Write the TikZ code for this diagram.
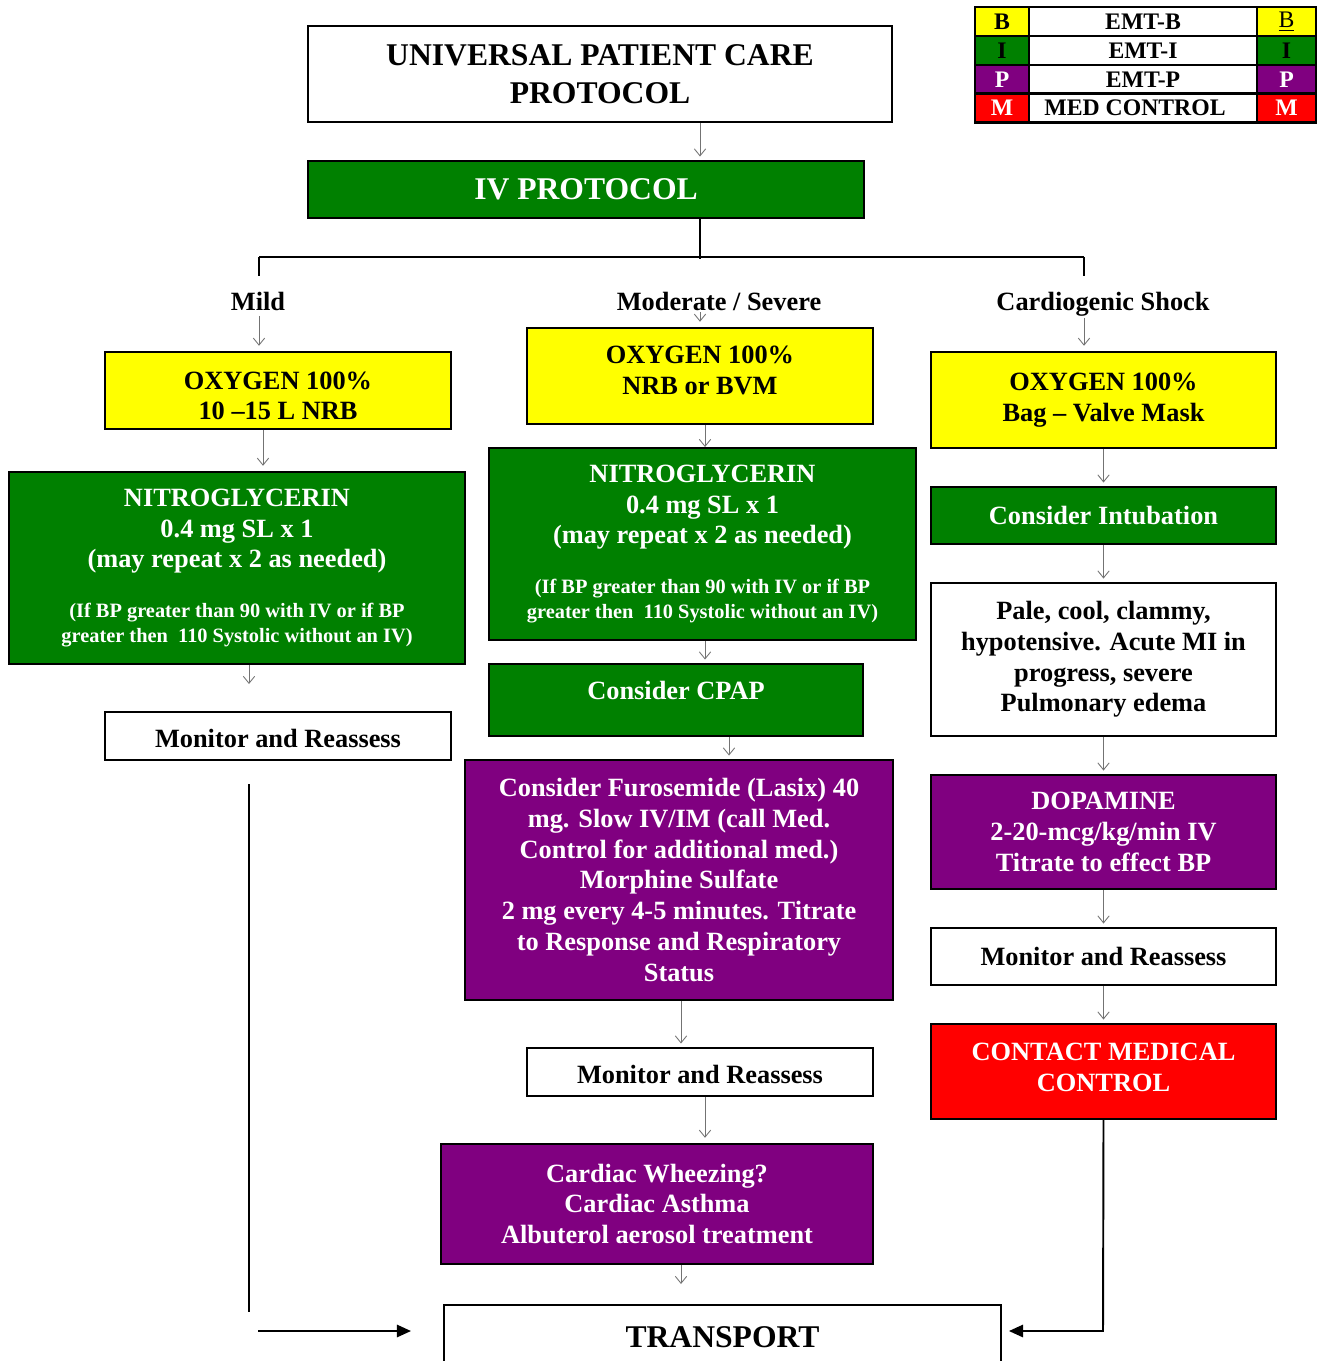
\documentclass[tikz,border=0pt]{standalone}
\usepackage{fontspec}
\setmainfont{Liberation Serif}
\usepackage{tikz}
\usetikzlibrary{arrows.meta,positioning}
\definecolor{BoxGreen}{HTML}{008000}
\definecolor{BoxPurple}{HTML}{800080}
\definecolor{BoxYellow}{HTML}{FFFF00}
\definecolor{BoxRed}{HTML}{FF0000}
\newcommand{\bpfont}{\fontsize{11.6}{13}\selectfont}
\tikzset{
    box/.style={draw=black, line width=1.1pt, inner sep=2pt, align=center,
        font=\fontsize{15}{17.5}\selectfont\bfseries},
    yellowbox/.style={box, fill=BoxYellow, text=black},
    greenbox/.style={box, fill=BoxGreen, text=white},
    purplebox/.style={box, fill=BoxPurple, text=white},
    redbox/.style={box, fill=BoxRed, text=white},
    whitebox/.style={box, fill=white, text=black},
    branchlabel/.style={font=\fontsize{15}{17.5}\selectfont\bfseries, inner sep=1pt},
    cell/.style={draw=black, line width=1.2pt, minimum height=0.58cm, inner sep=0pt,
        font=\fontsize{13.5}{15}\selectfont\bfseries},
    flow/.style={-{Straight Barb[length=4pt,width=6.5pt]}, draw=black!55, line width=0.5pt},
    link/.style={draw=black, line width=1.1pt},
    feed/.style={link, -{Triangle[length=8pt,width=7pt]}}
}
\begin{document}
\begin{tikzpicture}[x=0.02cm,y=-0.02cm]
    \useasboundingbox (0,0) rectangle (1318,1361);
    \clip (0,0) rectangle (1318,1361);

    % legend
    \node[cell, fill=BoxYellow, minimum width=1.08cm] (lgbl) at (1002,21.5) {B};
    \node[cell, fill=white, minimum width=4.56cm] (lgbm) at (1143,21.5) {EMT-B};
    \node[cell, fill=BoxYellow, minimum width=1.18cm] (lgbr) at (1286.5,21.5) {\mdseries\underline{B}};
    \node[cell, fill=BoxGreen, minimum width=1.08cm] (lgil) at (1002,50.5) {I};
    \node[cell, fill=white, minimum width=4.56cm] (lgim) at (1143,50.5) {EMT-I};
    \node[cell, fill=BoxGreen, minimum width=1.18cm] (lgir) at (1286.5,50.5) {I};
    \node[cell, fill=BoxPurple, text=white, minimum width=1.08cm] (lgpl) at (1002,79.5) {P};
    \node[cell, fill=white, minimum width=4.56cm] (lgpm) at (1143,79.5) {EMT-P};
    \node[cell, fill=BoxPurple, text=white, minimum width=1.18cm] (lgpr) at (1286.5,79.5) {P};
    \node[cell, fill=BoxRed, text=white, minimum width=1.08cm] (lgml) at (1002,108) {M};
    \node[cell, fill=white, minimum width=4.56cm] (lgmm) at (1143,108) {MED CONTROL\kern0.32cm};
    \node[cell, fill=BoxRed, text=white, minimum width=1.18cm] (lgmr) at (1286.5,108) {M};

    \node[whitebox, minimum width=11.68cm, minimum height=1.92cm,
        font=\fontsize{18}{21.5}\selectfont\bfseries] (title) at (600,74)
        {UNIVERSAL PATIENT CARE\\PROTOCOL};
    \node[greenbox, minimum width=11.12cm, minimum height=1.14cm,
        font=\fontsize{18}{21.5}\selectfont\bfseries] (iv) at (586,189.5) {IV PROTOCOL};

    \coordinate (split) at (700,257);
    \coordinate (lsplit) at (259,257);
    \coordinate (rsplit) at (1084,257);
    \node[branchlabel] (mild) at (258,301) {Mild};
    \node[branchlabel] (modsev) at (719,301) {Moderate / Severe};
    \node[branchlabel, text depth=0pt] (shock) at (1103,301) {Cardiogenic Shock};

    % mild
    \node[yellowbox, minimum width=6.92cm, minimum height=1.54cm, text height=33.5pt] (oxymild) at (278,390.5)
        {OXYGEN 100\%\\10 –15 L NRB};
    \node[greenbox, minimum width=9.12cm, minimum height=3.84cm] (nitromild) at (237,568)
        {NITROGLYCERIN\\0.4 mg SL x 1\\(may repeat x 2 as needed)\\[11pt]
        \bpfont (If BP greater than 90 with IV or if BP\\[-3.5pt]
        \bpfont greater then\ \ 110 Systolic without an IV)};
    \node[whitebox, minimum width=6.92cm, minimum height=0.96cm, text height=13.5pt] (monmild) at (278,736)
        {Monitor and Reassess};

    % moderate / severe
    \node[yellowbox, minimum width=6.92cm, minimum height=1.92cm, text depth=6.2pt] (oxymod) at (700,376)
        {OXYGEN 100\%\\NRB or BVM};
    \node[greenbox, minimum width=8.54cm, minimum height=3.84cm] (nitromod) at (702.5,544)
        {NITROGLYCERIN\\0.4 mg SL x 1\\(may repeat x 2 as needed)\\[11pt]
        \bpfont (If BP greater than 90 with IV or if BP\\[-3.5pt]
        \bpfont greater then\ \ 110 Systolic without an IV)};
    \node[greenbox, minimum width=7.48cm, minimum height=1.44cm, text depth=11pt] (cpap) at (676,700)
        {Consider CPAP};
    \node[purplebox, minimum width=8.56cm, minimum height=4.8cm] (furo) at (679,880)
        {Consider Furosemide (Lasix) 40\\mg. Slow IV/IM (call Med.\\Control for additional med.)\\
        Morphine Sulfate\\2 mg every 4-5 minutes. Titrate\\to Response and Respiratory\\Status};
    \node[whitebox, minimum width=6.92cm, minimum height=0.96cm, text height=13.5pt] (monmod) at (700,1072)
        {Monitor and Reassess};
    \node[purplebox, minimum width=8.64cm, minimum height=2.4cm] (wheeze) at (657,1204)
        {Cardiac Wheezing?\\Cardiac Asthma\\Albuterol aerosol treatment};
    \node[whitebox, minimum width=11.14cm, minimum height=1.4cm, text depth=3.5pt,
        font=\fontsize{18}{21.5}\selectfont\bfseries] (transport) at (722.5,1340) {TRANSPORT};

    % cardiogenic shock
    \node[yellowbox, minimum width=6.9cm, minimum height=1.92cm] (oxyshock) at (1103.5,400)
        {OXYGEN 100\%\\Bag – Valve Mask};
    \node[greenbox, minimum width=6.9cm, minimum height=1.14cm] (intub) at (1103.5,515.5)
        {Consider Intubation};
    \node[whitebox, minimum width=6.9cm, minimum height=3.06cm] (pale) at (1103.5,659.5)
        {Pale, cool, clammy,\\hypotensive. Acute MI in\\progress, severe\\Pulmonary edema};
    \node[purplebox, minimum width=6.9cm, minimum height=2.28cm] (dopa) at (1103.5,832)
        {DOPAMINE\\2-20-mcg/kg/min IV\\Titrate to effect BP};
    \node[whitebox, minimum width=6.9cm, minimum height=1.14cm] (monshock) at (1103.5,956.5)
        {Monitor and Reassess};
    \node[redbox, minimum width=6.9cm, minimum height=1.9cm, text depth=4.5pt] (contact) at (1103.5,1071.5)
        {CONTACT MEDICAL\\CONTROL};

    \coordinate (nitroend) at (249,684);
    \coordinate (ltop) at (249,784);
    \coordinate (lbot) at (249,1312);
    \coordinate (lfrom) at (258,1331);
    \coordinate (lto) at (411,1331);
    \coordinate (wheezeend) at (681,1284);
    \coordinate (rcorner) at (1103,1331);

    \draw[flow] (title.south -| split) -- ([yshift=2pt]iv.north -| split);
    \draw[link] (iv.south -| split) -- ([yshift=-1pt]split);
    \draw[link] (lsplit) -- (rsplit);
    \draw[link] (lsplit) -- ++(0,19);
    \draw[link] (rsplit) -- ++(0,19);
    \draw[flow] ([yshift=-2pt]mild.south -| lsplit) -- ([yshift=3pt]oxymild.north -| lsplit);
    \draw[flow] (modsev.south -| split) -- ([yshift=3pt]oxymod.north -| split);
    \draw[flow] ([yshift=-3pt]shock.south -| rsplit) -- ([yshift=3pt]oxyshock.north -| rsplit);

    \draw[flow] (oxymild.south -| 263,0) -- ([yshift=3pt]nitromild.north -| 263,0);
    \draw[flow] (nitromild.south -| nitroend) -- (nitroend);
    \draw[link] (ltop) -- (lbot);
    \draw[feed] (lfrom) -- (lto);

    \draw[flow] (oxymod.south -| 705,0) -- (nitromod.north -| 705,0);
    \draw[flow] (nitromod.south -| 705,0) -- ([yshift=2pt]cpap.north -| 705,0);
    \draw[flow] (cpap.south -| 729,0) -- ([yshift=2pt]furo.north -| 729,0);
    \draw[flow] (furo.south -| 681,0) -- ([yshift=2pt]monmod.north -| 681,0);
    \draw[flow] (monmod.south -| 705,0) -- ([yshift=3pt]wheeze.north -| 705,0);
    \draw[flow] (wheeze.south -| wheezeend) -- (wheezeend);

    \draw[flow] (oxyshock.south) -- ([yshift=2pt]intub.north);
    \draw[flow] (intub.south) -- ([yshift=2pt]pale.north);
    \draw[flow] (pale.south) -- ([yshift=2pt]dopa.north);
    \draw[flow] (dopa.south) -- ([yshift=2pt]monshock.north);
    \draw[flow] (monshock.south) -- ([yshift=2pt]contact.north);
    \draw[feed, shorten >=4pt] (contact.south) -- (rcorner) -- (transport.east |- rcorner);
\end{tikzpicture}
\end{document}
